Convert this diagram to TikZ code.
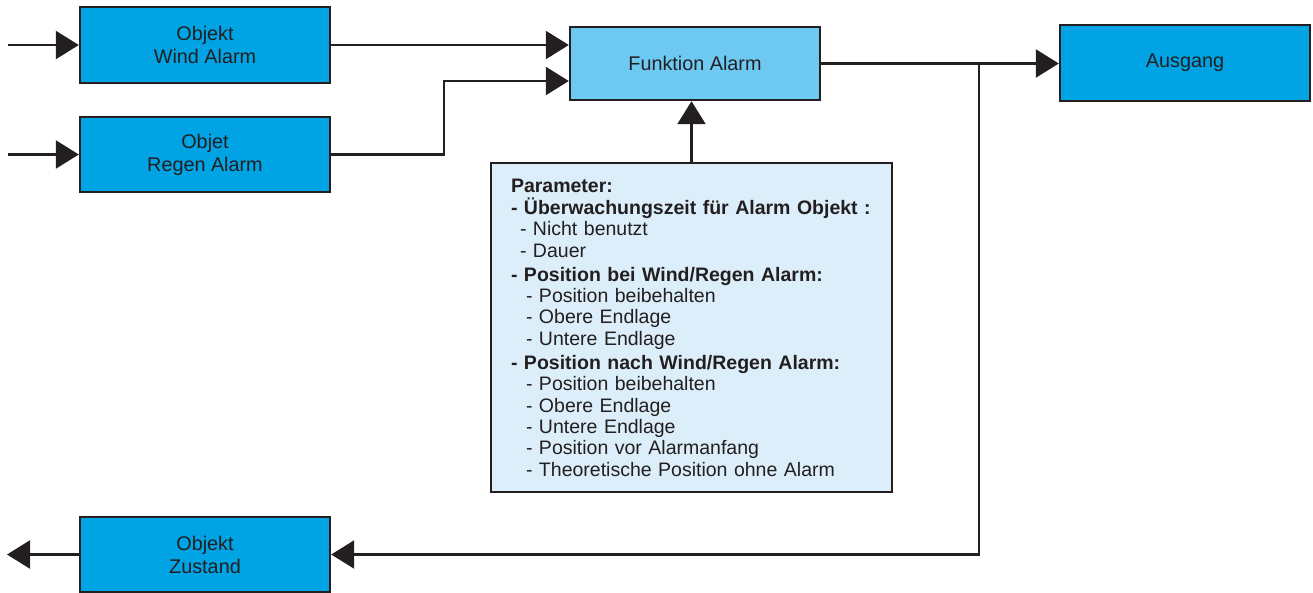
\documentclass[tikz,border=0pt]{standalone}
\usepackage{fontspec}
\setmainfont{Liberation Sans}
\usetikzlibrary{arrows.meta,calc}
\definecolor{linegray}{HTML}{231F20}
\definecolor{objblue}{HTML}{00A3E4}
\definecolor{funcblue}{HTML}{6DC8F2}
\definecolor{parblue}{HTML}{DCEEFA}
\tikzset{
  blockbox/.style={draw=linegray, line width=2.4pt, fill=objblue, text=linegray,
    minimum width=250pt, minimum height=76pt, inner sep=0pt, align=center,
    font=\fontsize{19.8}{23}\selectfont},
  flow/.style={draw=linegray, line width=2.4pt, -{Triangle[length=23pt,width=28pt]}},
  wire/.style={draw=linegray, line width=2.4pt}
}

\begin{document}
\begin{tikzpicture}[x=1pt, y=-1pt]
			%%%%% START %%%%%
			\useasboundingbox (0, 0) rectangle (1313, 592);
			
			\node[blockbox] (wind) at (205, 45) {Objekt\\Wind Alarm};
			\node[blockbox, minimum height=75pt] (regen) at (205, 154.5) {Objet\\Regen Alarm};
			\node[blockbox, fill=funcblue, minimum height=73pt] (funktion) at (695, 63.5) {Funktion Alarm};
			\node[blockbox] (ausgang) at (1185, 63) {Ausgang};
			\node[blockbox, minimum height=75pt] (zustand) at (205, 554.5) {Objekt\\Zustand};
			
			\node[draw=linegray, line width=2.4pt, fill=parblue, text=linegray,
			  text width=361pt, inner xsep=20pt, inner ysep=0pt, minimum height=329pt,
			  align=left, font=\fontsize{19.5}{21.4}\selectfont] (param) at (691.5, 327.5)
			  {\textbf{Parameter:}\\[1pt]
			   \textbf{- Überwachungszeit für Alarm Objekt :}\\
			   \hspace*{9pt}- Nicht benutzt\\
			   \hspace*{9pt}- Dauer\\[2.5pt]
			   \textbf{- Position bei Wind/Regen Alarm:}\\
			   \hspace*{15pt}- Position beibehalten\\
			   \hspace*{15pt}- Obere Endlage\\
			   \hspace*{15pt}- Untere Endlage\\[2.5pt]
			   \textbf{- Position nach Wind/Regen Alarm:}\\
			   \hspace*{15pt}- Position beibehalten\\
			   \hspace*{15pt}- Obere Endlage\\
			   \hspace*{15pt}- Untere Endlage\\
			   \hspace*{15pt}- Position vor Alarmanfang\\
			   \hspace*{15pt}- Theoretische Position ohne Alarm};
			
			\coordinate (windin) at (8, 45);
			\coordinate (regenin) at (8, 154.5);
			\coordinate (knee) at (444, 81);
			\coordinate (split) at (979, 63);
			\coordinate (zustandout) at (7, 554.5);
			
			% inputs
			\draw[flow] (windin) -- (wind.west);
			\draw[flow] (regenin) -- (regen.west);
			\draw[flow] (wind.east) -- (wind.east -| funktion.west);
			\draw[flow] (regen.east) -| (knee) -- (knee -| funktion.west);
			\draw[flow] (param.north) -- (param.north |- funktion.south);
			
			% outputs
			\draw[flow] (funktion.east) -- (funktion.east -| ausgang.west);
			\draw[flow] (split) |- (zustand.east);
			\draw[flow] (zustand.west) -- (zustandout);
			%%%%% END %%%%%
\end{tikzpicture}
\end{document}
